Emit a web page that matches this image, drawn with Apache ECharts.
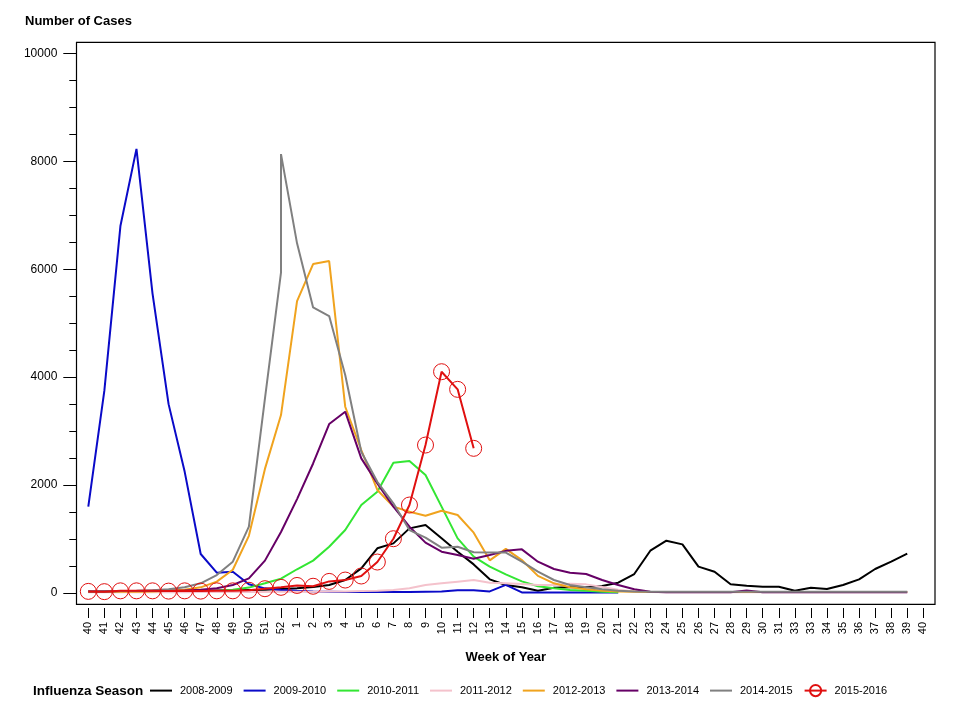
<!DOCTYPE html>
<html>
<head>
<meta charset="utf-8">
<title>Influenza cases by week</title>
<script src="https://cdn.jsdelivr.net/npm/echarts@6/dist/echarts.min.js"></script>
<style>
  html, body { margin: 0; padding: 0; background: #fff; }
  #chart { width: 960px; height: 720px; }
</style>
</head>
<body>
<div id="chart"></div>
<script>
// week labels as printed on the axis (the original repeats "33")
var weeks = ['40','41','42','43','44','45','46','47','48','49','50','51','52',
  '1','2','3','4','5','6','7','8','9','10','11','12','13','14','15','16','17','18','19','20',
  '21','22','23','24','25','26','27','28','29','30','31','33','33','34','35','36','37','38','39','40'];

var seasons = ['2008-2009','2009-2010','2010-2011','2011-2012','2012-2013','2013-2014','2014-2015','2015-2016'];
var colors  = ['#000000','#0a0ac8','#33e633','#f4c2cc','#f0a31e','#660066','#808080','#e01010'];

var s0809 = [30,30,35,35,35,40,40,40,45,50,55,60,75,
  90,110,148,241,457,828,920,1198,1260,1013,766,530,
  253,148,105,43,99,105,105,130,191,352,784,970,901,488,395,
  161,136,117,117,43,99,74,148,253,445,580,728];
var s0910 = [1600,3750,6800,8230,5550,3500,2250,723,377,395,161,86,56,
  40,30,25,20,20,20,20,20,25,30,50,50,30,150,10,10,10,10,10,10,10];
var s1011 = [20,20,20,25,25,25,30,30,35,60,100,
  180,265,440,600,858,1167,1630,1877,2415,2446,
  2186,1600,1013,673,488,345,215,125,86,56,43,25,15];
var s1112 = [15,15,15,15,15,15,15,20,20,20,20,20,25,
  25,25,30,30,35,40,56,87,148,179,210,241,
  191,179,167,148,150,170,160,110,60,30,20,
  15,15,15,15,15,15,15,15,15,15,15,15,15,15,15,15];
var s1213 = [20,20,25,25,30,40,60,105,210,430,1060,
  2300,3298,5410,6096,6152,3452,2650,1909,1600,1507,1433,1525,1445,1118,
  605,818,610,318,179,105,68,40,30,25,20,
  20,20,20,20,20,20,20,20,20,20,20,20,20,20,20,20];
var s1314 = [30,30,35,35,40,40,45,60,90,148,270,
  600,1130,1740,2400,3131,3360,2495,2032,1600,1229,933,766,704,636,
  704,781,809,580,445,377,352,241,148,68,25,
  15,15,15,15,15,45,15,15,15,15,15,15,15,15,15,15];
// 2014-2015 has a week 53, drawn in the same slot as week 52
var s1415 = [30,30,35,40,50,68,105,179,333,580,1230,3600,
  5935,8134,
  6480,5293,5132,4040,2619,2060,1662,1167,1025,840,858,754,
  750,749,580,395,241,148,105,68,43,30,25,
  25,25,25,25,25,25,25,25,25,25,25,25,25,25,25,25];
var s1516 = [30,25,40,40,40,35,40,35,40,40,50,80,105,
  140,125,215,240,315,574,1006,1630,2742,4101,3774,2681];
var week53Slot = 12;

var yMin = 0, yMax = 10000, yStep = 2000;

var font = 'Arial, "Liberation Sans", sans-serif';

var chart = echarts.init(document.getElementById('chart'));

var s1415Points = s1415.map(function (v, k) {
  return [k <= week53Slot ? k : k - 1, v];
});

var allData = [s0809, s0910, s1011, s1112, s1213, s1314, s1415Points, s1516];

var series = seasons.map(function (name, n) {
  var last = n === seasons.length - 1;
  return {
    name: name,
    type: 'line',
    xAxisIndex: 0,
    yAxisIndex: 0,
    data: allData[n],
    symbol: last ? 'circle' : 'none',
    symbolSize: 16,
    showAllSymbol: true,
    lineStyle: { color: colors[n], width: 2 },
    itemStyle: last ? { color: 'rgba(0,0,0,0)', borderColor: colors[n], borderWidth: 1 } : { color: colors[n] },
    emphasis: { disabled: true },
    z: 2 + n
  };
});

// plain line icon for seasons drawn without markers
var legendItems = seasons.map(function (name, n) {
  if (n === seasons.length - 1) return { name: name };
  return { name: name, icon: 'path://M0,0H22V2H0Z' };
});

var options = {
  animation: false,
  backgroundColor: '#fff',
  textStyle: { fontFamily: font, color: '#000' },
  title: [
    { text: 'Number of Cases', left: 25, top: 15, padding: 0,
      textStyle: { fontFamily: font, fontSize: 13, fontWeight: 'bold', color: '#000' } },
    { text: 'Influenza Season', left: 33, top: 684, padding: 0,
      textStyle: { fontFamily: font, fontSize: 13.5, fontWeight: 'bold', color: '#000' } }
  ],
  legend: {
    data: legendItems,
    left: 150,
    top: 684,
    padding: 0,
    itemWidth: 22,
    itemHeight: 14,
    itemGap: 11,
    symbolKeepAspect: true,
    textStyle: { fontFamily: font, fontSize: 11, color: '#000', padding: [0, 0, 0, 3] }
  },
  grid: [
    // data area
    { left: 88.3, right: 36.7, top: 53.4, bottom: 127, show: false },
    // plot frame
    { left: 76.5, right: 25, top: 42.3, bottom: 115.7, show: true,
      borderColor: '#000', borderWidth: 1.2, backgroundColor: 'transparent' }
  ],
  xAxis: [
    {
      type: 'category',
      gridIndex: 0,
      data: weeks,
      boundaryGap: false,
      offset: 15,
      name: 'Week of Year',
      nameLocation: 'middle',
      nameGap: 43,
      nameTextStyle: { fontFamily: font, fontSize: 13, fontWeight: 'bold', color: '#000' },
      axisLine: { show: false, onZero: false },
      axisTick: { show: true, inside: false, interval: 0, length: 10, lineStyle: { color: '#000', width: 1 } },
      axisLabel: { interval: 0, rotate: 90, margin: 14, fontFamily: font, fontSize: 11, color: '#000' },
      splitLine: { show: false }
    },
    { type: 'value', gridIndex: 1, show: false }
  ],
  yAxis: [
    {
      type: 'value',
      gridIndex: 0,
      min: yMin,
      max: yMax,
      interval: yStep,
      offset: 12,
      axisLine: { show: false, onZero: false },
      axisTick: { show: true, length: 13, lineStyle: { color: '#000', width: 1 } },
      minorTick: { show: true, splitNumber: 4, length: 7, lineStyle: { color: '#000', width: 1 } },
      axisLabel: { margin: 19, fontFamily: font, fontSize: 12, color: '#000',
        formatter: function (v) { return String(v); } },
      splitLine: { show: false },
      minorSplitLine: { show: false }
    },
    { type: 'value', gridIndex: 1, show: false }
  ],
  series: series
};

chart.setOption(options);
</script>
</body>
</html>
